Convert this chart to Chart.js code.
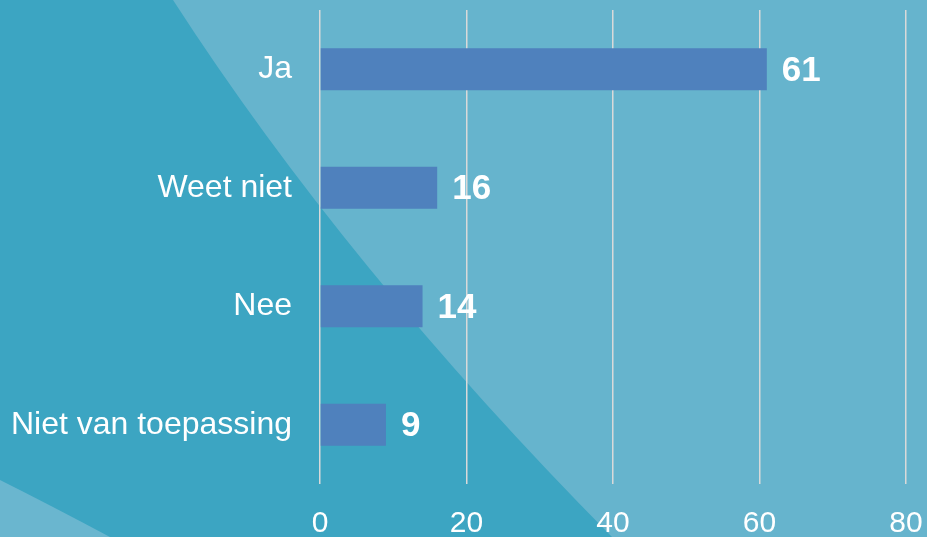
<!DOCTYPE html>
<html>
<head>
<meta charset="utf-8">
<script src="https://cdn.jsdelivr.net/npm/chart.js@4.4.0/dist/chart.umd.min.js"></script>
<style>
  html, body { margin: 0; padding: 0; background: #66b4cd; }
  #wrap { width: 927px; height: 537px; position: relative; }
</style>
</head>
<body>
<div id="wrap"><canvas id="chart"></canvas></div>
<script>
// Chart data
const categories = ['Ja', 'Weet niet', 'Nee', 'Niet van toepassing'];
const values = [61, 16, 14, 9];
const xTicks = [0, 20, 40, 60, 80];

const fontFamily = '"Liberation Sans", Arial, sans-serif';

// Two-tone teal background with curved diagonal
const backgroundPlugin = {
    id: 'background',
    beforeDraw(chart) {
        const ctx = chart.ctx;
        const w = chart.width, h = chart.height;
        ctx.save();
        ctx.fillStyle = '#66b4cd';
        ctx.fillRect(0, 0, w, h);

        // darker teal on the left
        ctx.fillStyle = '#3ca5c2';
        ctx.beginPath();
        ctx.moveTo(0, 0);
        ctx.lineTo(173, 0);
        ctx.quadraticCurveTo(346, 268, 612, h);
        ctx.lineTo(0, h);
        ctx.closePath();
        ctx.fill();

        // lighter wedge in the bottom-left corner
        ctx.fillStyle = '#6ab6cf';
        ctx.beginPath();
        ctx.moveTo(0, 480);
        ctx.quadraticCurveTo(50, 505, 110, h);
        ctx.lineTo(0, h);
        ctx.closePath();
        ctx.fill();
        ctx.restore();
    }
};

// Bold value labels at the end of each bar
const valueLabels = {
    id: 'valueLabels',
    afterDatasetsDraw(chart) {
        const ctx = chart.ctx;
        const meta = chart.getDatasetMeta(0);
        ctx.save();
        ctx.fillStyle = '#ffffff';
        ctx.font = 'bold 35px ' + fontFamily;
        ctx.textAlign = 'left';
        ctx.textBaseline = 'middle';
        meta.data.forEach((bar, i) => {
            ctx.fillText(String(values[i]), bar.x + 15, bar.y + 2);
        });
        ctx.restore();
    }
};

function noAutoPadding(scale) {
    scale.paddingLeft = 0;
    scale.paddingRight = 0;
    scale.paddingTop = 0;
    scale.paddingBottom = 0;
}

new Chart(document.getElementById('chart'), {
    type: 'bar',
    data: {
        labels: categories,
        datasets: [{
            data: values,
            backgroundColor: '#4f81bd',
            borderWidth: 0,
            categoryPercentage: 1,
            barPercentage: 0.355
        }]
    },
    options: {
        indexAxis: 'y',
        responsive: true,
        maintainAspectRatio: false,
        animation: false,
        layout: { autoPadding: false, padding: { top: 10, right: 21, left: 0, bottom: 0 } },
        plugins: {
            legend: { display: false },
            tooltip: { enabled: false }
        },
        scales: {
            x: {
                min: 0,
                max: 80,
                afterBuildTicks(scale) {
                    scale.ticks = xTicks.map(v => ({ value: v }));
                },
                afterFit(scale) { scale.height = 53; noAutoPadding(scale); },
                grid: { color: '#d9d9d9', lineWidth: 1.5, drawTicks: false },
                border: { display: false },
                ticks: {
                    color: '#ffffff',
                    padding: 22,
                    font: { family: fontFamily, size: 30 }
                }
            },
            y: {
                afterFit(scale) { scale.width = 320; noAutoPadding(scale); },
                grid: { display: false, drawTicks: false },
                border: { display: false },
                ticks: {
                    color: '#ffffff',
                    padding: 28,
                    font: { family: fontFamily, size: 32 }
                }
            }
        }
    },
    plugins: [backgroundPlugin, valueLabels]
});
</script>
</body>
</html>
